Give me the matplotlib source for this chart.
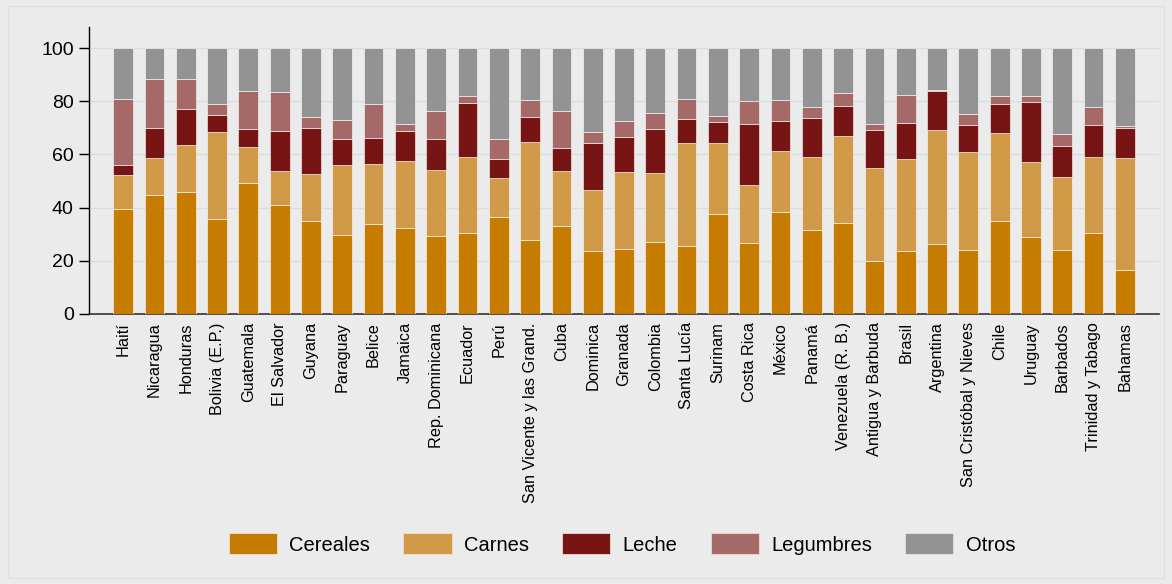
import matplotlib
matplotlib.use("Agg")
import matplotlib.pyplot as plt
from matplotlib.patches import Rectangle, Patch
import numpy as np

plt.rcParams['font.family'] = ['Liberation Sans', 'DejaVu Sans']

paises = ["Haití", "Nicaragua", "Honduras", "Bolivia (E.P.)", "Guatemala", "El Salvador",
          "Guyana", "Paraguay", "Belice", "Jamaica", "Rep. Dominicana", "Ecuador", "Perú",
          "San Vicente y las Grand.", "Cuba", "Dominica", "Granada", "Colombia", "Santa Lucía",
          "Surinam", "Costa Rica", "México", "Panamá", "Venezuela (R. B.)", "Antigua y Barbuda",
          "Brasil", "Argentina", "San Cristóbal y Nieves", "Chile", "Uruguay", "Barbados",
          "Trinidad y Tabago", "Bahamas"]

cereales = [39.6, 44.7, 46.0, 35.6, 49.1, 41.0, 35.0, 29.6, 34.0, 32.5, 29.3, 30.5, 36.3,
            27.9, 33.0, 23.7, 24.3, 27.2, 25.7, 37.6, 26.8, 38.3, 31.5, 34.1, 20.1,
            23.6, 26.4, 24.1, 34.8, 28.8, 23.9, 30.3, 16.7]
carnes = [12.8, 14.1, 17.7, 32.8, 13.7, 12.6, 17.8, 26.5, 22.3, 24.9, 25.0, 28.6, 14.7,
          36.6, 20.6, 22.9, 29.2, 25.7, 38.5, 26.6, 21.6, 23.0, 27.5, 32.7, 34.7,
          34.5, 42.6, 36.7, 33.1, 28.3, 27.6, 28.8, 41.9]
leche = [3.6, 11.1, 13.2, 6.4, 6.6, 15.3, 17.0, 9.8, 10.0, 11.4, 11.4, 20.2, 7.3,
         9.6, 8.7, 17.6, 12.9, 16.6, 9.1, 8.0, 23.0, 11.3, 14.6, 11.5, 14.5,
         13.8, 14.7, 10.3, 11.0, 22.6, 11.7, 11.8, 11.5]
legumbres = [24.7, 18.3, 11.3, 4.0, 14.3, 14.6, 4.3, 7.0, 12.5, 2.5, 10.5, 2.5, 7.4,
             6.2, 13.9, 4.3, 6.0, 6.1, 7.5, 2.4, 8.6, 7.7, 4.1, 4.7, 2.1,
             10.3, 0.5, 4.0, 3.2, 2.1, 4.5, 7.0, 0.7]
otros = [19.3, 11.8, 11.8, 21.2, 16.3, 16.5, 25.9, 27.1, 21.2, 28.7, 23.8, 18.2, 34.3,
         19.7, 23.8, 31.5, 27.6, 24.4, 19.2, 25.4, 20.0, 19.7, 22.3, 17.0, 28.6,
         17.8, 15.8, 24.9, 17.9, 18.2, 32.3, 22.1, 29.2]

series = [("Cereales", cereales, "#C67C00"),
          ("Carnes", carnes, "#D19A48"),
          ("Leche", leche, "#761513"),
          ("Legumbres", legumbres, "#A56967"),
          ("Otros", otros, "#939393")]

bg = "#EBEBEB"
fig = plt.figure(figsize=(11.72, 5.84), dpi=100, facecolor=bg)
fig.patches.append(Rectangle((8 / 1172, 6 / 584), 1156 / 1172, 572 / 584,
                             transform=fig.transFigure, fill=False,
                             edgecolor="#DCE1E3", linewidth=1.0))

ax = fig.add_axes([89 / 1172, 1 - 314 / 584, (1159 - 89) / 1172, (314 - 27) / 584])
ax.set_facecolor(bg)

x = np.arange(len(paises))
bottom = np.zeros(len(paises))
for name, vals, col in series:
    v = np.array(vals)
    ax.bar(x, v, bottom=bottom, width=0.63, color=col, edgecolor="#FFFFFF",
           linewidth=0.4, label=name, zorder=3)
    bottom += v

ax.set_xlim(-1.09, 33.09)
ax.set_ylim(0, 107.9)
ax.set_yticks([0, 20, 40, 60, 80, 100])
ax.yaxis.grid(True, color="#D6DEE2", linewidth=1.0, zorder=0)
ax.set_axisbelow(True)

for s in ["top", "right"]:
    ax.spines[s].set_visible(False)
ax.spines["left"].set_color("#000000")
ax.spines["left"].set_linewidth(1.0)
ax.spines["bottom"].set_color("#333333")
ax.spines["bottom"].set_linewidth(1.2)

ax.tick_params(axis="y", length=7, width=1, color="#000000", labelsize=14, pad=4)
ax.set_xticks(x)
ax.set_xticklabels(paises, rotation=90, fontsize=11.7, va="top", ha="center")
ax.tick_params(axis="x", length=0, pad=6)

handles = [Patch(facecolor=col, edgecolor="#F3E8DD", linewidth=0.5, label=name)
           for name, _, col in series]
fig.legend(handles=handles, loc="center", bbox_to_anchor=(622 / 1172, 1 - 544 / 584),
           ncol=5, frameon=False, fontsize=14.5, handlelength=2.4, handleheight=1.2,
           handletextpad=0.6, columnspacing=1.65)

fig.savefig("out.png", dpi=100, facecolor=bg)
